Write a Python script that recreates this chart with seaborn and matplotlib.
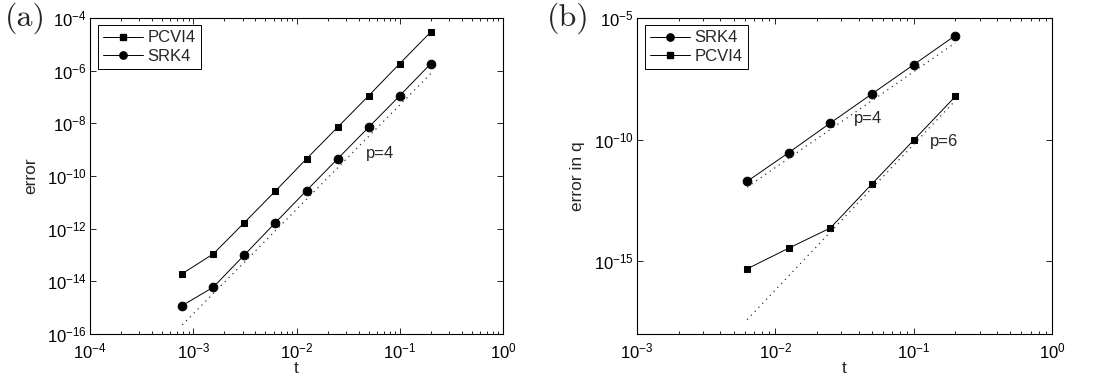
import numpy as np
import pandas as pd
import matplotlib
matplotlib.use("Agg")
import matplotlib.pyplot as plt
import seaborn as sns
from matplotlib.ticker import LogLocator, NullLocator, FixedLocator
from matplotlib.lines import Line2D

# ---------------- data ----------------
# panel (a)
a_t = [7.8125e-4, 1.5625e-3, 3.125e-3, 6.25e-3, 0.0125, 0.025, 0.05, 0.1, 0.2]
a_pcvi4 = [1.95e-14, 1.1e-13, 1.7e-12, 2.7e-11, 4.5e-10, 7.1e-9, 1.12e-7, 1.86e-6, 2.96e-5]
a_srk4 = [1.2e-15, 6.0e-15, 1.0e-13, 1.7e-12, 2.8e-11, 4.5e-10, 7.1e-9, 1.12e-7, 1.86e-6]
a_ref_t = [7.8125e-4, 0.2]
a_ref_err = [2.2e-16, 7.8e-7]
a_yticks = [1e-16, 1e-14, 1e-12, 1e-10, 1e-8, 1e-6, 1e-4]

# panel (b)
b_t = [0.00625, 0.0125, 0.025, 0.05, 0.1, 0.2]
b_srk4 = [1.9e-12, 2.9e-11, 4.8e-10, 7.6e-9, 1.2e-7, 1.9e-6]
b_pcvi4 = [4.8e-16, 3.4e-15, 2.3e-14, 1.5e-12, 9.4e-11, 5.9e-9]
b_ref4_t = [0.00625, 0.2]
b_ref4_err = [1.1e-12, 9.5e-7]
b_ref6_t = [0.00625, 0.2]
b_ref6_err = [3.9e-18, 4.0e-9]
b_yticks = [1e-15, 1e-10, 1e-5]

# ---------------- style ----------------
sns.set_style("ticks")
plt.rcParams['font.family'] = ['Liberation Sans', 'DejaVu Sans']
plt.rcParams['mathtext.fontset'] = 'custom'
plt.rcParams['mathtext.rm'] = 'Liberation Sans'
plt.rcParams['mathtext.it'] = 'Liberation Sans:italic'
plt.rcParams['mathtext.bf'] = 'Liberation Sans:bold'
plt.rcParams['axes.edgecolor'] = 'black'
plt.rcParams['axes.linewidth'] = 0.8

FS_TICK = 12
FS_LAB = 12.5
FS_LEG = 12
FS_TXT = 12

fig = plt.figure(figsize=(10.94, 3.78), dpi=100)
axA = fig.add_axes([0.0823, 0.1164, 0.3775, 0.836])
axB = fig.add_axes([0.5823, 0.1164, 0.3793, 0.836])

LW = 0.7
MS_SQ = 5.0
MS_CI = 6.2


def series(ax, x, y, marker, ms, label):
    df = pd.DataFrame({"t": x, "err": y})
    sns.lineplot(data=df, x="t", y="err", ax=ax, color="black", lw=LW,
                 marker=marker, markersize=ms, markeredgecolor="black",
                 markerfacecolor="black", label=label, legend=False)


def refline(ax, x, y):
    df = pd.DataFrame({"t": x, "err": y})
    sns.lineplot(data=df, x="t", y="err", ax=ax, color="#333333", lw=0.9,
                 linestyle=(0, (1, 3.4)), legend=False)


def style_axes(ax, xlim, ylim, yticks, xlabel, ylabel):
    ax.set_xscale("log")
    ax.set_yscale("log")
    ax.set_xlim(*xlim)
    ax.set_ylim(*ylim)
    ax.xaxis.set_major_locator(LogLocator(base=10, numticks=20))
    ax.xaxis.set_minor_locator(LogLocator(base=10, subs=np.arange(2, 10), numticks=50))
    ax.yaxis.set_major_locator(FixedLocator(yticks))
    ax.yaxis.set_minor_locator(NullLocator())
    ax.tick_params(which="both", direction="in", top=True, right=True,
                   colors="black", width=0.6)
    ax.tick_params(which="major", length=4, labelsize=FS_TICK)
    ax.tick_params(axis="x", which="major", pad=5.5)
    ax.tick_params(axis="y", which="major", pad=2.5)
    ax.tick_params(which="minor", length=2.2)
    ax.set_xlabel(xlabel, fontsize=FS_LAB, labelpad=-0.5)
    ax.set_ylabel(ylabel, fontsize=FS_LAB, labelpad=6)
    for s in ax.spines.values():
        s.set_visible(True)
        s.set_color("black")


def make_legend(ax, handles, labels):
    leg = ax.legend(handles, labels, loc="upper left", fontsize=FS_LEG,
                    fancybox=False, edgecolor="black", framealpha=1,
                    handlelength=2.4, borderaxespad=0.45, borderpad=0.3,
                    labelspacing=0.2, handletextpad=0.3)
    leg.get_frame().set_linewidth(0.7)


# panel (a)
series(axA, a_t, a_pcvi4, "s", MS_SQ, "PCVI4")
series(axA, a_t, a_srk4, "o", MS_CI, "SRK4")
refline(axA, a_ref_t, a_ref_err)
axA.text(0.047, 7e-10, "p=4", fontsize=FS_TXT, va="center", ha="left")
style_axes(axA, (1e-4, 1e0), (1e-16, 1e-4), a_yticks, "t", "error")
make_legend(axA,
            [Line2D([], [], color="black", lw=LW, marker="s", ms=MS_SQ * 0.9),
             Line2D([], [], color="black", lw=LW, marker="o", ms=MS_CI * 0.85)],
            ["PCVI4", "SRK4"])

# panel (b)
series(axB, b_t, b_srk4, "o", MS_CI, "SRK4")
series(axB, b_t, b_pcvi4, "s", MS_SQ, "PCVI4")
refline(axB, b_ref4_t, b_ref4_err)
refline(axB, b_ref6_t, b_ref6_err)
axB.text(0.037, 7e-10, "p=4", fontsize=FS_TXT, va="center", ha="left")
axB.text(0.13, 8e-11, "p=6", fontsize=FS_TXT, va="center", ha="left")
style_axes(axB, (1e-3, 1e0), (1e-18, 1e-5), b_yticks, "t", "error in q")
make_legend(axB,
            [Line2D([], [], color="black", lw=LW, marker="o", ms=MS_CI * 0.85),
             Line2D([], [], color="black", lw=LW, marker="s", ms=MS_SQ * 0.9)],
            ["SRK4", "PCVI4"])

# panel labels
fig.text(0.004, 0.952, "(a)", fontsize=23, family=["cmr10", "DejaVu Serif"],
         va="center", ha="left")
fig.text(0.500, 0.952, "(b)", fontsize=23, family=["cmr10", "DejaVu Serif"],
         va="center", ha="left")

fig.savefig("out.png", dpi=100)
